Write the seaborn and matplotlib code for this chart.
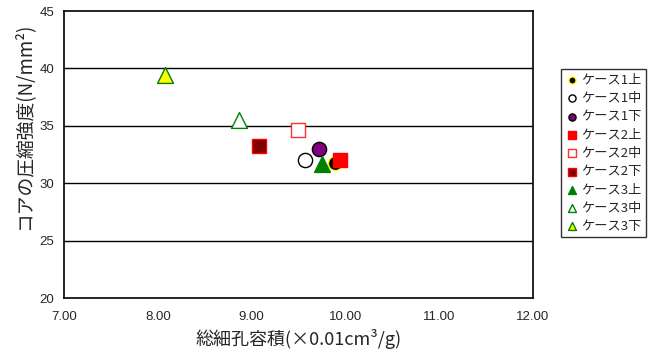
import matplotlib
matplotlib.use("Agg")
import matplotlib.pyplot as plt
import seaborn as sns
import pandas as pd

sns.set_theme(style="white")
plt.rcParams['font.family'] = ['Noto Sans CJK JP', 'DejaVu Sans']

# series names
cases = ["ケース1上", "ケース1中", "ケース1下",
         "ケース2上", "ケース2中", "ケース2下",
         "ケース3上", "ケース3中", "ケース3下"]
# total pore volume (x 0.01 cm3/g)
pore_volume = [9.89, 9.57, 9.72, 9.94, 9.49, 9.08, 9.75, 8.87, 8.08]
# core compressive strength (N/mm2)
strength = [31.8, 32.0, 33.0, 32.0, 34.6, 33.2, 31.7, 35.5, 39.4]

x_ticks = [7.0, 8.0, 9.0, 10.0, 11.0, 12.0]
y_ticks = [20, 25, 30, 35, 40, 45]

styles = {
    "ケース1上": dict(marker="o", color="black", edgecolor="#ffff00"),
    "ケース1中": dict(marker="o", color="white", edgecolor="black"),
    "ケース1下": dict(marker="o", color="#800080", edgecolor="black"),
    "ケース2上": dict(marker="s", color="#ff0000", edgecolor="#ff0000"),
    "ケース2中": dict(marker="s", color="white", edgecolor="#ff3030"),
    "ケース2下": dict(marker="s", color="#800000", edgecolor="#ff0000"),
    "ケース3上": dict(marker="^", color="#008000", edgecolor="#008000"),
    "ケース3中": dict(marker="^", color="white", edgecolor="#008000"),
    "ケース3下": dict(marker="^", color="#ffff00", edgecolor="#008000"),
}

df = pd.DataFrame({"case": cases, "x": pore_volume, "y": strength})

fig = plt.figure(figsize=(6.51, 3.60), dpi=100)
ax = fig.add_axes([0.0983, 0.1722, 0.7204, 0.7972])

for y in y_ticks[1:-1]:
    ax.axhline(y, color="black", lw=1.0, zorder=0)

for name in cases:
    st = styles[name]
    size = 130 if st["marker"] == "^" else 105
    sns.scatterplot(data=df[df["case"] == name], x="x", y="y", ax=ax,
                    marker=st["marker"], color=st["color"],
                    edgecolor=st["edgecolor"], linewidth=1.0, s=size,
                    label=name, zorder=3)

num_font = ['Liberation Sans', 'DejaVu Sans']
ax.set_xlim(7, 12)
ax.set_ylim(20, 45)
ax.set_xticks(x_ticks)
ax.set_xticklabels([f"{v:.2f}" for v in x_ticks], fontsize=9.5, family=num_font)
ax.set_yticks(y_ticks)
ax.set_yticklabels([str(v) for v in y_ticks], fontsize=9.5, family=num_font)
ax.tick_params(axis="x", direction="in", length=4, width=1, color="black", pad=9)
ax.tick_params(axis="y", direction="in", length=0, pad=7)
for sp in ax.spines.values():
    sp.set_color("black")
    sp.set_linewidth(1.2)

ax.set_xlabel("総細孔容積(×0.01cm³/g)", fontsize=13, labelpad=5)
ax.set_ylabel("コアの圧縮強度(N/mm²)", fontsize=13.5)
ax.yaxis.set_label_coords(-0.064, 0.6)

leg = ax.legend(loc="upper left", bbox_to_anchor=(561 / 651, 1 - 69 / 360),
                bbox_transform=fig.transFigure, frameon=True,
                fancybox=False, edgecolor="black", fontsize=9.5,
                markerscale=0.5, handletextpad=0.3, handlelength=0.9,
                labelspacing=0.4, borderpad=0.35, borderaxespad=0)
leg.get_frame().set_linewidth(1.0)

fig.savefig("out.png", dpi=100)
